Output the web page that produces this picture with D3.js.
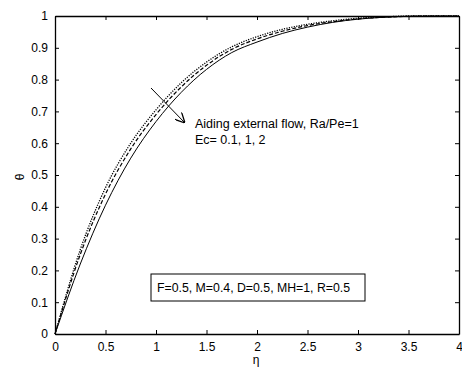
<!DOCTYPE html>
<html>
<head>
<meta charset="utf-8">
<script src="https://cdn.jsdelivr.net/npm/d3@7"></script>
<style>
  body { margin: 0; background: #fff; }
  svg text { font-family: "Liberation Sans", Arial, sans-serif; fill: #000; }
</style>
</head>
<body>
<svg id="chart" width="462" height="367"></svg>
<script>
// eta grid and theta profiles for Ec = 0.1, 1, 2
const eta = [0, 0.25, 0.5, 0.75, 1, 1.25, 1.5, 1.75, 2, 2.25, 2.5, 2.75, 3, 3.25, 3.5, 3.75, 4];
const thetaEc01 = [0, 0.265, 0.46, 0.60, 0.705, 0.79, 0.855, 0.903, 0.935, 0.958, 0.974, 0.985, 0.993, 0.997, 1, 1, 1];
const thetaEc1  = [0, 0.25, 0.44, 0.582, 0.69, 0.777, 0.845, 0.895, 0.928, 0.952, 0.97, 0.982, 0.991, 0.996, 0.999, 1, 1];
const thetaEc2  = [0, 0.22, 0.405, 0.553, 0.668, 0.76, 0.832, 0.885, 0.918, 0.945, 0.965, 0.98, 0.99, 0.996, 0.999, 1, 1];
const xTicks = [0, 0.5, 1, 1.5, 2, 2.5, 3, 3.5, 4];
const yTicks = [0, 0.1, 0.2, 0.3, 0.4, 0.5, 0.6, 0.7, 0.8, 0.9, 1];

const series = [
  { name: "Ec=0.1", values: thetaEc01, dash: "1.2,1.3", width: 1.3 },
  { name: "Ec=1",   values: thetaEc1,  dash: "4,2",     width: 1.2 },
  { name: "Ec=2",   values: thetaEc2,  dash: null,      width: 1 }
];

const margin = { left: 55, right: 3, top: 16, bottom: 33 };
const width = 462 - margin.left - margin.right;
const height = 367 - margin.top - margin.bottom;

const svg = d3.select("#chart");
const g = svg.append("g").attr("transform", "translate(" + margin.left + "," + margin.top + ")");

const x = d3.scaleLinear().domain([0, 4]).range([0, width]);
const y = d3.scaleLinear().domain([0, 1]).range([height, 0]);

// axes with inward ticks on all four sides
g.append("g")
  .attr("transform", "translate(0," + height + ")")
  .call(d3.axisBottom(x).tickValues(xTicks).tickSizeInner(-4).tickSizeOuter(0).tickPadding(8).tickFormat(d => String(d)))
  .call(a => a.selectAll("text").attr("font-size", 12));

g.append("g")
  .call(d3.axisLeft(y).tickValues(yTicks).tickSizeInner(-4).tickSizeOuter(0).tickPadding(7).tickFormat(d => String(d)))
  .call(a => a.selectAll("text").attr("font-size", 12));

g.append("g")
  .call(d3.axisTop(x).tickValues(xTicks).tickSizeInner(-4).tickSizeOuter(0).tickFormat(""));

g.append("g")
  .attr("transform", "translate(" + width + ",0)")
  .call(d3.axisRight(y).tickValues(yTicks).tickSizeInner(-4).tickSizeOuter(0).tickFormat(""));

g.selectAll(".domain").attr("stroke", "#000").attr("stroke-width", 1.3);
g.selectAll(".tick line").attr("stroke", "#000");

// curves
const line = d3.line()
  .x((d, i) => x(eta[i]))
  .y(d => y(d))
  .curve(d3.curveMonotoneX);

g.selectAll("path.curve")
  .data(series)
  .enter()
  .append("path")
  .attr("class", "curve")
  .attr("d", d => line(d.values))
  .attr("fill", "none")
  .attr("stroke", "#000")
  .attr("stroke-width", d => d.width)
  .attr("stroke-dasharray", d => d.dash);

// arrow annotation
svg.append("defs").append("marker")
  .attr("id", "head")
  .attr("viewBox", "0 0 10 10")
  .attr("refX", 10).attr("refY", 5)
  .attr("markerWidth", 10).attr("markerHeight", 10)
  .attr("markerUnits", "userSpaceOnUse")
  .attr("orient", "auto")
  .append("path")
  .attr("d", "M0,0 L10,5 L0,10")
  .attr("fill", "none")
  .attr("stroke", "#000")
  .attr("stroke-width", 1.3);

svg.append("line")
  .attr("x1", 151).attr("y1", 88)
  .attr("x2", 185).attr("y2", 123)
  .attr("stroke", "#000")
  .attr("stroke-width", 1)
  .attr("marker-end", "url(#head)");

svg.append("text").attr("x", 195).attr("y", 128).attr("font-size", 12.5)
  .text("Aiding external flow, Ra/Pe=1");
svg.append("text").attr("x", 195).attr("y", 144).attr("font-size", 12.5)
  .text("Ec= 0.1, 1, 2");

// parameter box
svg.append("rect")
  .attr("x", 151).attr("y", 274)
  .attr("width", 214).attr("height", 27)
  .attr("fill", "#fff").attr("stroke", "#000").attr("stroke-width", 1);
svg.append("text").attr("x", 157).attr("y", 292).attr("font-size", 12.3)
  .text("F=0.5, M=0.4, D=0.5, MH=1, R=0.5");

// axis labels
svg.append("text")
  .attr("x", 256).attr("y", 364)
  .attr("text-anchor", "middle")
  .attr("font-size", 12)
  .text("η");
svg.append("text")
  .attr("transform", "translate(24,177) rotate(-90)")
  .attr("text-anchor", "middle")
  .attr("font-size", 12)
  .text("θ");
</script>
</body>
</html>
